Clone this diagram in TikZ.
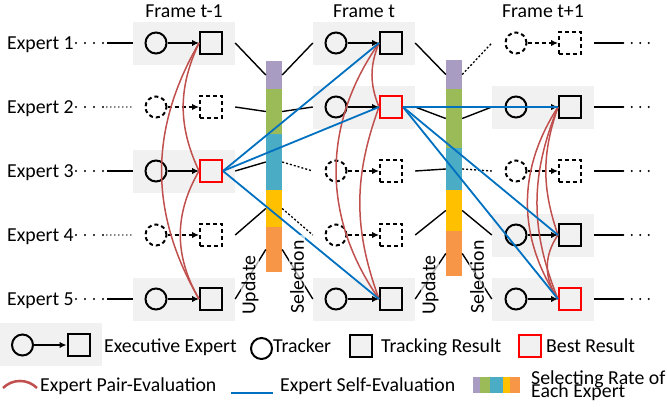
\documentclass[tikz,border=0pt]{standalone}
\usepackage{fontspec}
\setmainfont{Carlito}
\usepackage{tikz}
\usetikzlibrary{arrows.meta,positioning}
\definecolor{slotgray}{RGB}{241,241,241}
\definecolor{pairred}{RGB}{192,80,77}
\definecolor{selfblue}{RGB}{0,112,192}
\definecolor{bestred}{RGB}{255,0,0}
\definecolor{rate1}{RGB}{168,156,194}
\definecolor{rate2}{RGB}{155,187,89}
\definecolor{rate3}{RGB}{75,172,198}
\definecolor{rate4}{RGB}{255,192,0}
\definecolor{rate5}{RGB}{247,150,70}

\begin{document}
\begin{tikzpicture}[x=1pt,y=-1pt,
  every node/.style={font=\fontsize{19.8}{13.3}\selectfont},
  lbl/.style={inner xsep=2pt,inner ysep=0pt},
  slot/.style={rectangle,minimum width=102pt,minimum height=43pt,inner sep=0pt},
  live/.style={slot,fill=slotgray},
  trk/.style={circle,draw,line width=2pt,minimum size=21pt,inner sep=0pt},
  res/.style={rectangle,draw,line width=2pt,minimum size=22pt,inner sep=0pt,fill=slotgray},
  best/.style={res,draw=bestred},
  idle/.style={dash pattern=on 4pt off 3pt,fill=none},
  seg/.style={rectangle,minimum width=16pt,inner sep=0pt},
  ar/.style={-{Latex[length=7pt,width=6.5pt]},line width=2pt},
  wire/.style={line width=1.4pt},
  faint/.style={line width=1.3pt,dash pattern=on 2pt off 2pt},
  trail/.style={line width=2.2pt,line cap=round,dash pattern=on 0pt off 9pt},
  tightdots/.style={line width=1.6pt,line cap=round,dash pattern=on 0pt off 4pt},
  pairev/.style={draw=pairred,line width=1.5pt},
  selfev/.style={draw=selfblue,line width=1.8pt},
  bartag/.style={rotate=90,anchor=west,inner xsep=5pt,inner ysep=1pt,fill=white,fill opacity=0.65,text opacity=1}
]
\useasboundingbox (0,0) rectangle (667,407);

% frame titles and expert names
\node[lbl,anchor=base] (fa) at (184,17) {Frame t-1};
\node[lbl,anchor=base] (fb) at (364,17) {Frame t};
\node[lbl,anchor=base] (fc) at (543,17) {Frame t+1};
\node[lbl,anchor=base west] (ex1) at (5,49.3) {Expert 1};
\node[lbl,anchor=base west] (ex2) at (5,113.3) {Expert 2};
\node[lbl,anchor=base west] (ex3) at (5,177.3) {Expert 3};
\node[lbl,anchor=base west] (ex4) at (5,241.3) {Expert 4};
\node[lbl,anchor=base west] (ex5) at (5,305.3) {Expert 5};

% expert slots per frame
\node[live] (sa1) at (184,43) {};
\node[slot] (sa2) at (184,107) {};
\node[live] (sa3) at (184,171) {};
\node[slot] (sa4) at (184,235) {};
\node[live] (sa5) at (184,299) {};
\node[live] (sb1) at (364,43) {};
\node[live] (sb2) at (364,107) {};
\node[slot] (sb3) at (364,171) {};
\node[slot] (sb4) at (364,235) {};
\node[live] (sb5) at (364,299) {};
\node[slot] (sc1) at (543,43) {};
\node[live] (sc2) at (543,107) {};
\node[slot] (sc3) at (543,171) {};
\node[live] (sc4) at (543,235) {};
\node[live] (sc5) at (543,299) {};

% selecting-rate bars
\node[seg,fill=rate1,minimum height=28pt] (ua1) at (274,75) {};
\node[seg,fill=rate2,minimum height=45pt] (ua2) at (274,111.5) {};
\node[seg,fill=rate3,minimum height=56pt] (ua3) at (274,162) {};
\node[seg,fill=rate4,minimum height=37pt] (ua4) at (274,208.5) {};
\node[seg,fill=rate5,minimum height=45pt] (ua5) at (274,249.5) {};
\node[seg,fill=rate1,minimum height=29pt] (ub1) at (454,74.5) {};
\node[seg,fill=rate2,minimum height=59pt] (ub2) at (454,118.5) {};
\node[seg,fill=rate3,minimum height=42pt] (ub3) at (454,169) {};
\node[seg,fill=rate4,minimum height=41pt] (ub4) at (454,210.5) {};
\node[seg,fill=rate5,minimum height=45pt] (ub5) at (454,253.5) {};

% lead-in lines
\draw[trail] (ex1.east |- sa1.west) -- ++(31,0) coordinate (la1);
\draw[trail] (ex2.east |- sa2.west) -- ++(31,0) coordinate (la2);
\draw[trail] (ex3.east |- sa3.west) -- ++(31,0) coordinate (la3);
\draw[trail] (ex4.east |- sa4.west) -- ++(31,0) coordinate (la4);
\draw[trail] (ex5.east |- sa5.west) -- ++(31,0) coordinate (la5);
\draw[wire] (la1) -- (sa1.west);
\draw[tightdots] (la2) -- (sa2.west);
\draw[wire] (la3) -- (sa3.west);
\draw[tightdots] (la4) -- (sa4.west);
\draw[wire] (la5) -- (sa5.west);

% update and selection links
\draw[wire] (sa1.east) -- (ua1.west);
\draw[wire] (sa2.east) -- (ua2.west);
\draw[wire] (sa3.east) -- (ua3.west);
\draw[wire] (sa4.east) -- (ua4.west);
\draw[wire] (sa5.east) -- (ua5.west);
\draw[wire] (ua1.east) -- (sb1.west);
\draw[wire] (ua2.east) -- (sb2.west);
\draw[faint] (ua3.east) -- (sb3.west);
\draw[faint] (ua4.east) -- (sb4.west);
\draw[wire] (ua5.east) -- (sb5.west);
\draw[wire] (sb1.east) -- (ub1.west);
\draw[wire] (sb2.east) -- (ub2.west);
\draw[wire] (sb3.east) -- (ub3.west);
\draw[wire] (sb4.east) -- (ub4.west);
\draw[wire] (sb5.east) -- (ub5.west);
\draw[faint] (ub1.east) -- (sc1.west);
\draw[wire] (ub2.east) -- (sc2.west);
\draw[faint] (ub3.east) -- (sc3.west);
\draw[wire] (ub4.east) -- (sc4.west);
\draw[wire] (ub5.east) -- (sc5.west);

% trailing lines
\draw[wire] (sc1.east) -- ++(29,0) coordinate (lc1);
\draw[wire] (sc2.east) -- ++(29,0) coordinate (lc2);
\draw[wire] (sc3.east) -- ++(29,0) coordinate (lc3);
\draw[wire] (sc4.east) -- ++(29,0) coordinate (lc4);
\draw[wire] (sc5.east) -- ++(29,0) coordinate (lc5);
\draw[trail,dash pattern=on 0pt off 8.5pt] (lc1) -- ++(26,0) coordinate (ec1);
\draw[trail,dash pattern=on 0pt off 8.5pt] (lc2) -- ++(26,0) coordinate (ec2);
\draw[trail,dash pattern=on 0pt off 8.5pt] (lc3) -- ++(26,0) coordinate (ec3);
\draw[trail,dash pattern=on 0pt off 8.5pt] (lc4) -- ++(26,0) coordinate (ec4);
\draw[trail,dash pattern=on 0pt off 8.5pt] (lc5) -- ++(26,0) coordinate (ec5);

% trackers and tracking results
\node[trk] (ta1) at (156,43) {};
\node[trk,idle] (ta2) at (156,107) {};
\node[trk] (ta3) at (156,171) {};
\node[trk,idle] (ta4) at (156,235) {};
\node[trk] (ta5) at (156,299) {};
\node[res] (ra1) at (211,43) {};
\node[res,idle] (ra2) at (211,107) {};
\node[best] (ra3) at (211,171) {};
\node[res,idle] (ra4) at (211,235) {};
\node[res] (ra5) at (211,299) {};
\node[trk] (tb1) at (336,43) {};
\node[trk] (tb2) at (336,107) {};
\node[trk,idle] (tb3) at (336,171) {};
\node[trk,idle] (tb4) at (336,235) {};
\node[trk] (tb5) at (336,299) {};
\node[res] (rb1) at (391,43) {};
\node[best] (rb2) at (391,107) {};
\node[res,idle] (rb3) at (391,171) {};
\node[res,idle] (rb4) at (391,235) {};
\node[res] (rb5) at (391,299) {};
\node[trk,idle] (tc1) at (516,43) {};
\node[trk] (tc2) at (516,107) {};
\node[trk,idle] (tc3) at (516,171) {};
\node[trk] (tc4) at (516,235) {};
\node[trk] (tc5) at (516,299) {};
\node[res,idle] (rc1) at (570,43) {};
\node[res] (rc2) at (570,107) {};
\node[res,idle] (rc3) at (570,171) {};
\node[res] (rc4) at (570,235) {};
\node[best] (rc5) at (570,299) {};

\draw[ar] (ta1) -- (ra1);
\draw[ar,dash pattern=on 4pt off 3pt] (ta2) -- (ra2);
\draw[ar] (ta3) -- (ra3);
\draw[ar,dash pattern=on 4pt off 3pt] (ta4) -- (ra4);
\draw[ar] (ta5) -- (ra5);
\draw[ar] (tb1) -- (rb1);
\draw[ar] (tb2) -- (rb2);
\draw[ar,dash pattern=on 4pt off 3pt] (tb3) -- (rb3);
\draw[ar,dash pattern=on 4pt off 3pt] (tb4) -- (rb4);
\draw[ar] (tb5) -- (rb5);
\draw[ar,dash pattern=on 4pt off 3pt] (tc1) -- (rc1);
\draw[ar] (tc2) -- (rc2);
\draw[ar,dash pattern=on 4pt off 3pt] (tc3) -- (rc3);
\draw[ar] (tc4) -- (rc4);
\draw[ar] (tc5) -- (rc5);

% pair evaluation
\draw[pairev] (ra1.west) to[bend right=25] (ra3.west);
\draw[pairev] (ra1.west) to[bend right=30] (ra5.west);
\draw[pairev] (ra3.west) to[bend right=30] (ra5.west);
\draw[pairev] (rb1.west) to[bend right=22] (rb2.west);
\draw[pairev] (rb1.west) to[bend right=35] (rb5.west);
\draw[pairev] (rb2.west) to[bend right=20] (rb5.west);
\draw[pairev] (rc2.west) to[bend right=19] (rc4.west);
\draw[pairev] (rc2.west) to[bend right=33] (rc5.west);
\draw[pairev] (rc2.west) to[bend right=22] (rc5.west);
\draw[pairev] (rc4.west) to[bend right=35] (rc5.west);

% self evaluation from the best result
\draw[selfev] (ra3.east) -- (rb1.west);
\draw[selfev] (ra3.east) -- (rb2.west);
\draw[selfev] (ra3.east) -- (rb5.west);
\draw[selfev] (rb2.east) -- (rc2.west);
\draw[selfev] (rb2.east) -- (rc4.west);
\draw[selfev] (rb2.east) -- (rc5.west);

\node[bartag] (upa) at (250,320) {Update};
\node[bartag] (sla) at (297,319) {Selection};
\node[bartag] (upb) at (430,320) {Update};
\node[bartag] (slb) at (477,319) {Selection};

% legend
\node[live] (lgs) at (51,344) {};
\node[trk] (lgt) at (22.5,345) {};
\node[res] (lgr) at (78.5,345) {};
\draw[ar] (lgt) -- (lgr);
\node[lbl,anchor=base west] (lge) at (102,352) {Executive Expert};
\node[trk,fill=white] (lgk) at (261.5,348.5) {};
\node[lbl,anchor=base west] (lgkt) at (271,352) {Tracker};
\node[res] (lgq) at (361,345.5) {};
\node[lbl,anchor=base west] (lgqt) at (379,352) {Tracking Result};
\node[best] (lgb) at (529.5,345.5) {};
\node[lbl,anchor=base west] (lgbt) at (544,352) {Best Result};

\coordinate (lp1) at (3,388);
\coordinate (lp2) at (37,388);
\draw[pairev,line width=2.5pt] (lp1) to[bend left=45] (lp2);
\node[lbl,anchor=base west] (lgp) at (38,391) {Expert Pair-Evaluation};
\coordinate (lb1) at (231,393);
\coordinate (lb2) at (273,393);
\draw[selfev,line width=2.5pt] (lb1) -- (lb2);
\node[lbl,anchor=base west] (lgv) at (278,391) {Expert Self-Evaluation};
\fill[rate1] (473,377) rectangle (479.5,393);
\fill[rate2] (479.5,377) rectangle (490,393);
\fill[rate3] (490,377) rectangle (502.7,393);
\fill[rate4] (502.7,377) rectangle (510,393);
\fill[rate5] (510,377) rectangle (520,393);
\node[lbl,anchor=base west,align=left] (lgsr) at (529,397) {Selecting Rate of\\[-5.5pt]Each Expert};
\end{tikzpicture}
\end{document}
